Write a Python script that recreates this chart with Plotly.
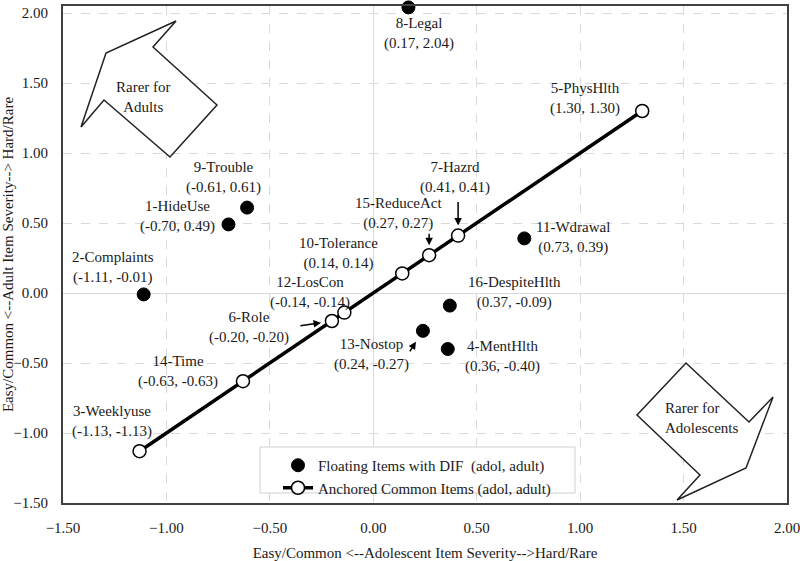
import plotly.graph_objects as go

# ---------------- data ----------------
floating_names = ["8-Legal", "9-Trouble", "1-HideUse", "2-Complaints",
                  "11-Wdrawal", "16-DespiteHlth", "13-Nostop", "4-MentHlth"]
floating_adol = [0.17, -0.61, -0.70, -1.11, 0.73, 0.37, 0.24, 0.36]
floating_adult = [2.04, 0.61, 0.49, -0.01, 0.39, -0.09, -0.27, -0.40]

anchored_names = ["3-Weeklyuse", "14-Time", "6-Role", "12-LosCon",
                  "10-Tolerance", "15-ReduceAct", "7-Hazrd", "5-PhysHlth"]
anchored_adol = [-1.13, -0.63, -0.20, -0.14, 0.14, 0.27, 0.41, 1.30]
anchored_adult = [-1.13, -0.63, -0.20, -0.14, 0.14, 0.27, 0.41, 1.30]

tick_vals = [-1.5, -1.0, -0.5, 0.0, 0.5, 1.0, 1.5, 2.0]

# ---------------- layout constants ----------------
W, H = 800, 561
L, R, T, B = 63, 13, 6, 58
PW, PH = W - L - R, H - T - B
FONT = "Liberation Serif, Times New Roman, serif"
TXT = "#1a1a1a"

# label offsets (pixels, x right / y up) relative to each point
label_offsets = {
    "8-Legal": (11, -26), "5-PhysHlth": (-57, 13), "9-Trouble": (-24, 30),
    "1-HideUse": (-51, 8), "2-Complaints": (-31, 27), "12-LosCon": (-34, 20),
    "6-Role": (-83, -6), "14-Time": (-65, 10), "3-Weeklyuse": (-28, 30),
    "10-Tolerance": (-64, 20), "15-ReduceAct": (-31, 42), "7-Hazrd": (-3, 58),
    "11-Wdrawal": (49, 1), "16-DespiteHlth": (65, 13), "13-Nostop": (-51, -24),
    "4-MentHlth": (55, -7),
}
# small pointer arrows: (tail offset ax, ay in px, standoff)
pointer_arrows = {
    "7-Hazrd": (0, -35, 10),
    "15-ReduceAct": (0, -23, 10),
    "6-Role": (-33, 5, 11),
    "13-Nostop": (-14, 22, 13),
}

fig = go.Figure()

fig.add_trace(go.Scatter(
    x=floating_adol, y=floating_adult, mode="markers",
    name="Floating Items with DIF\u00a0\u00a0(adol, adult)",
    marker=dict(color="black", size=13, line=dict(color="black", width=1)),
    cliponaxis=False,
))
fig.add_trace(go.Scatter(
    x=anchored_adol, y=anchored_adult, mode="lines+markers",
    name="Anchored Common Items (adol, adult)",
    line=dict(color="black", width=3.5),
    marker=dict(color="white", size=13, line=dict(color="black", width=1.5)),
    cliponaxis=False,
))

annotations = []
all_names = floating_names + anchored_names
all_x = floating_adol + anchored_adol
all_y = floating_adult + anchored_adult
for n, x, y in zip(all_names, all_x, all_y):
    dx, dy = label_offsets[n]
    annotations.append(dict(
        x=x, y=y, xref="x", yref="y", text=f"{n}<br>({x:.2f}, {y:.2f})",
        showarrow=False, xshift=dx, yshift=dy, xanchor="center", yanchor="middle",
        font=dict(family=FONT, size=15, color=TXT),
    ))
    if n in pointer_arrows:
        pax, pay, so = pointer_arrows[n]
        annotations.append(dict(
            x=x, y=y, xref="x", yref="y", text="", showarrow=True,
            ax=pax, ay=pay, standoff=so, arrowhead=2, arrowsize=1,
            arrowwidth=1.5, arrowcolor="black",
        ))


def px2paper(px, py):
    return (px - L) / PW, (H - B - py) / PH


def poly_path(pts):
    cs = [px2paper(*p) for p in pts]
    return "M " + " L ".join(f"{a:.4f},{b:.4f}" for a, b in cs) + " Z"


adult_arrow = [(81, 127), (106, 53), (176, 21), (153, 47), (217, 105), (170, 157), (104, 100)]
adol_arrow = [(686, 363), (749, 422), (773, 397), (746, 468), (677, 500), (700, 475), (637, 415)]

shapes = [
    dict(type="path", xref="paper", yref="paper", path=poly_path(adult_arrow),
         line=dict(color="#222", width=1.5), fillcolor="white", layer="above"),
    dict(type="path", xref="paper", yref="paper", path=poly_path(adol_arrow),
         line=dict(color="#222", width=1.5), fillcolor="white", layer="above"),
]
# legend frame
bx0, by0 = px2paper(260, 493)
bx1, by1 = px2paper(575, 447)
shapes.append(dict(type="rect", xref="paper", yref="paper", x0=bx0, y0=by0, x1=bx1, y1=by1,
                   line=dict(color="#d0d0d0", width=1), fillcolor="white", layer="above"))

ax1, ay1 = px2paper(143, 97)
annotations.append(dict(x=ax1, y=ay1, xref="paper", yref="paper",
                        xanchor="center", yanchor="middle",
                        text="Rarer for<br>Adults", showarrow=False,
                        font=dict(family=FONT, size=15, color=TXT)))
ax2, ay2 = px2paper(663, 418)
annotations.append(dict(x=ax2, y=ay2, xref="paper", yref="paper",
                        xanchor="left", yanchor="middle",
                        text="Rarer for<br>Adolescents", showarrow=False, align="left",
                        font=dict(family=FONT, size=15, color=TXT)))

lx, ly = px2paper(278, 449)

axis_common = dict(
    tickvals=tick_vals, tickformat=".2f", ticklabeloverflow="allow",
    showgrid=True, gridcolor="#d9d9d9", griddash="dash", gridwidth=1,
    zeroline=True, zerolinecolor="#d9d9d9", zerolinewidth=1,
    showline=True, mirror=True, linecolor="#404040", linewidth=2,
    ticks="outside", tickcolor="rgba(0,0,0,0)",
    tickfont=dict(family=FONT, size=15, color=TXT),
)

fig.update_layout(
    width=W, height=H,
    margin=dict(l=L, r=R, t=T, b=B, autoexpand=False),
    paper_bgcolor="white", plot_bgcolor="white",
    font=dict(family=FONT, size=15, color=TXT),
    xaxis=dict(axis_common, range=[-1.5, 2.0], ticklen=10,
               title=dict(text="Easy/Common <--Adolescent Item Severity-->Hard/Rare",
                          font=dict(family=FONT, size=15, color=TXT), standoff=14)),
    yaxis=dict(axis_common, range=[-1.5, 2.05], ticklen=10,
               title=dict(text="Easy/Common <--Adult Item Severity--> Hard/Rare",
                          font=dict(family=FONT, size=15, color=TXT), standoff=4)),
    legend=dict(x=lx, y=ly, xanchor="left", yanchor="top",
                bgcolor="rgba(0,0,0,0)", borderwidth=0,
                font=dict(family=FONT, size=15, color=TXT),
                tracegroupgap=0),
    showlegend=True,
    annotations=annotations,
    shapes=shapes,
)

fig.write_html("out.html", config={"displayModeBar": False},
               post_script="document.body.style.margin='0';")
